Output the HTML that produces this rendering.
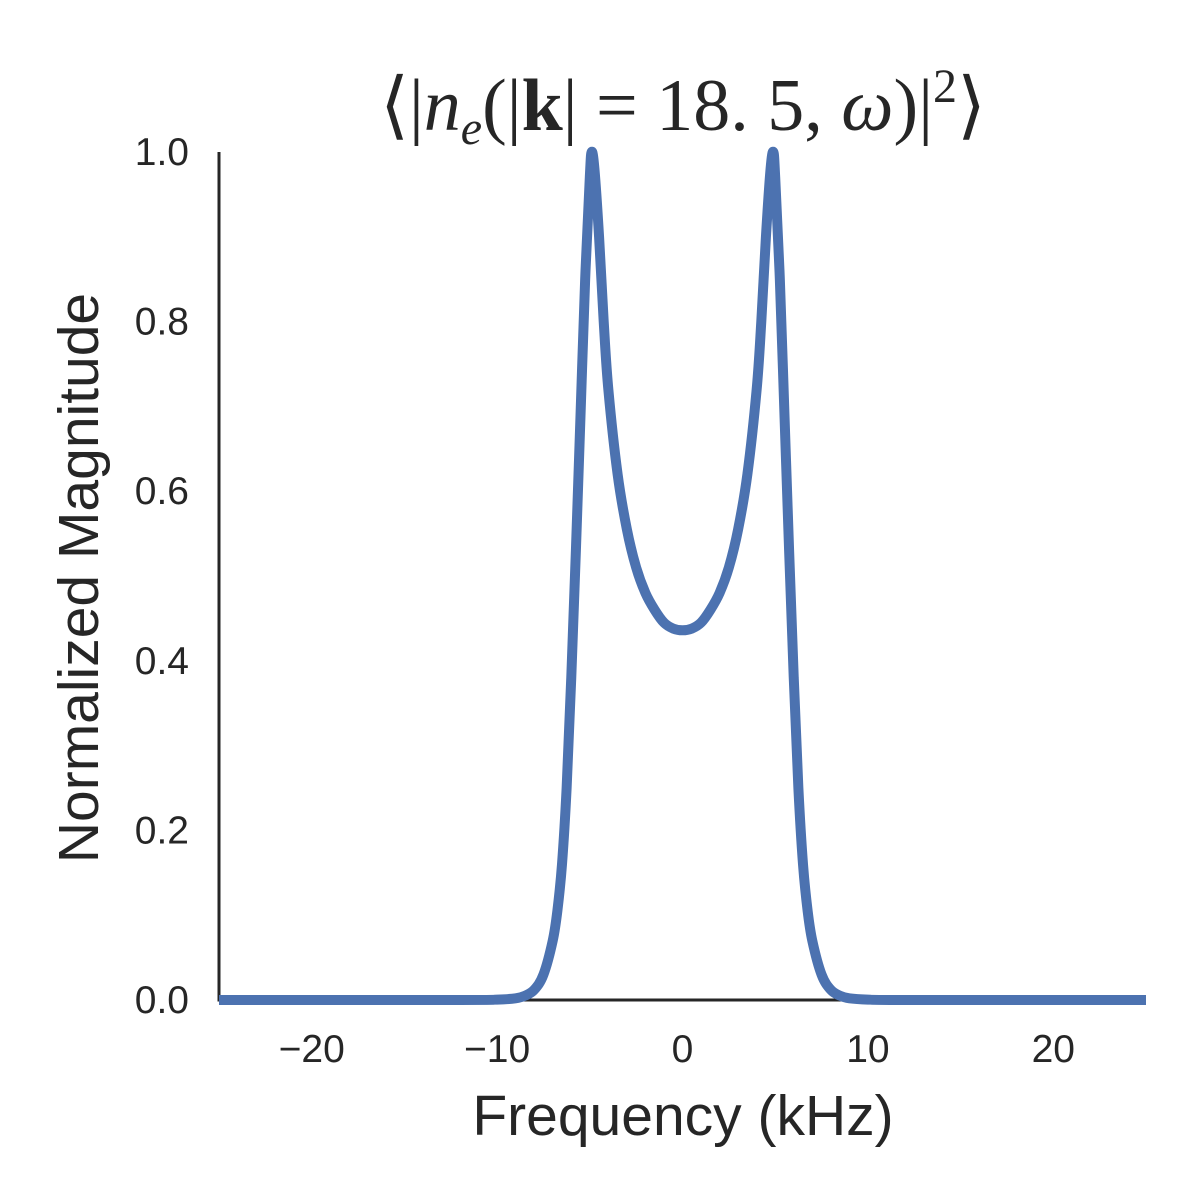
<!DOCTYPE html>
<html><head><meta charset="utf-8"><style>
body{margin:0;background:#fff}
svg{display:block}
text{font-family:"Liberation Sans",sans-serif;fill:#262626}
</style></head><body>
<svg id="chart" width="1200" height="1200" viewBox="0 0 1200 1200">
<g id="g"></g>
</svg>
<script>
const xHalf=[-25,-12,-10,-9,-8.5,-8,-7.5,-7,-6.75,-6.5,-6.25,-6,-5.75,-5.5,-5.25,-5,-4.9,-4.75,-4.5,-4.25,-4,-3.5,-3,-2.5,-2,-1.5,-1,-0.5,0];
const yHalf=[0,0,0.0005,0.002,0.005,0.012,0.03,0.07,0.105,0.16,0.25,0.38,0.53,0.69,0.85,0.97,1.0,0.98,0.9,0.8,0.72,0.62,0.555,0.51,0.48,0.46,0.445,0.438,0.436];
const xTicks=[-20,-10,0,10,20];
const yTicks=[0,0.2,0.4,0.6,0.8,1.0];
const yTickLabels=["0.0","0.2","0.4","0.6","0.8","1.0"];

const X0=219,X1=1146,Y0=1000,Y1=152;
const sx=v=>X0+(v+25)/50*(X1-X0);
const sy=v=>Y0-v*(Y0-Y1);
const NS="http://www.w3.org/2000/svg";
const g=document.getElementById('g');
function mk(t,a,txt){const e=document.createElementNS(NS,t);for(const k in a)e.setAttribute(k,a[k]);if(txt!=null)e.textContent=txt;g.appendChild(e);return e;}

const ya=mk('line',{x1:X0,y1:Y1,x2:X0,y2:Y0+1.5,stroke:'#262626','stroke-width':3});


const xa=mk('line',{x1:X0-1.5,y1:Y0,x2:X1,y2:Y0,stroke:'#262626','stroke-width':3});



const xs=xHalf.concat(xHalf.slice(0,-1).reverse().map(v=>-v));
const ys=yHalf.concat(yHalf.slice(0,-1).reverse());
const pts=xs.map((x,i)=>[sx(x),sy(ys[i])]);
let d="M"+pts[0][0]+","+pts[0][1];
for(let i=0;i<pts.length-1;i++){
 const p0=pts[Math.max(0,i-1)],p1=pts[i],p2=pts[i+1],p3=pts[Math.min(pts.length-1,i+2)];
 const c1=[p1[0]+(p2[0]-p0[0])/6,p1[1]+(p2[1]-p0[1])/6];
 const c2=[p2[0]-(p3[0]-p1[0])/6,p2[1]-(p3[1]-p1[1])/6];
 d+=` C${c1[0]},${c1[1]} ${c2[0]},${c2[1]} ${p2[0]},${p2[1]}`;
}
const line=mk('path',{d:d,fill:'none',stroke:'#4c72b0','stroke-width':10,'stroke-linejoin':'round'});



xTicks.forEach(v=>{
 const t=mk('text',{x:sx(v),y:1062,'font-size':39,'text-anchor':'middle'},(v<0?'\u2212':'')+Math.abs(v));
 
 
});
yTicks.forEach((v,i)=>{
 const t=mk('text',{x:189,y:sy(v)+13,'font-size':39,'text-anchor':'end'},yTickLabels[i]);
 
 
});
const xl=mk('text',{x:683,y:1135,'font-size':57,'text-anchor':'middle'},'Frequency (kHz)');


const yl=mk('text',{x:0,y:0,'font-size':57,'text-anchor':'middle',transform:'translate(98,578) rotate(-90)'},'Normalized Magnitude');



const title=mk('text',{x:683,y:130,'font-size':74,'text-anchor':'middle','style':'font-family:"Liberation Serif",serif'});


title.innerHTML='⟨|<tspan font-style="italic">n</tspan><tspan font-style="italic" font-size="48" dy="14">e</tspan><tspan dy="-14">(|</tspan><tspan font-weight="bold">k</tspan>| = 18. 5, <tspan font-style="italic">ω</tspan>)|<tspan font-size="48" dy="-28">2</tspan><tspan dy="28">⟩</tspan>';
</script>
</body></html>
